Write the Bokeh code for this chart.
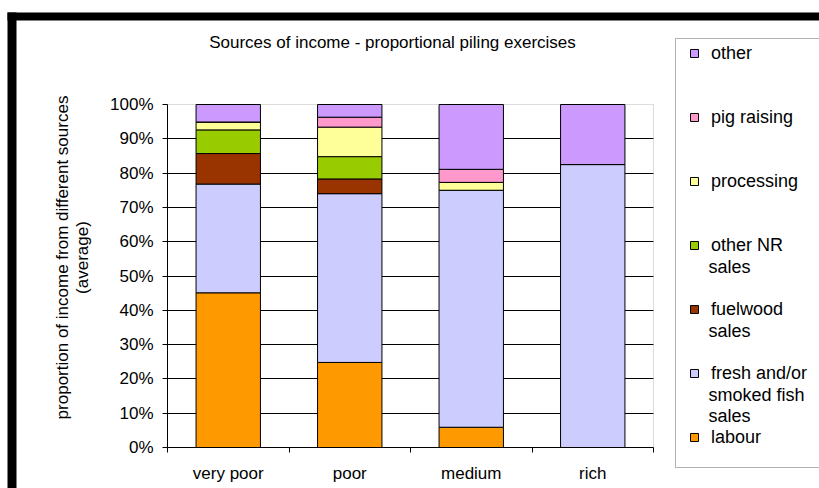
import math
from bokeh.plotting import figure
from bokeh.models import (Range1d, LinearAxis, FixedTicker,
                          PrintfTickFormatter, Label, Legend, LegendItem, BoxAnnotation,
                          ColumnDataSource, Grid)
from bokeh.embed import file_html
from bokeh.resources import INLINE

# ---------------- data ----------------
categories = ["very poor", "poor", "medium", "rich"]
labour = [45.1, 24.8, 5.9, 0.0]
fish = [31.7, 49.2, 69.1, 82.5]
fuelwood = [8.9, 4.3, 0.0, 0.0]
other_nr = [6.9, 6.5, 0.0, 0.0]
processing = [2.3, 8.6, 2.3, 0.0]
pig = [0.0, 2.9, 3.8, 0.0]
other = [5.1, 3.7, 18.9, 17.5]

series_keys = ["labour", "fish", "fuelwood", "other_nr", "processing", "pig", "other"]
series_colors = ["#FF9900", "#CCCCFF", "#993300", "#99CC00", "#FFFF99", "#FF99CC", "#CC99FF"]
legend_lines = [["labour"], ["fresh and/or", "smoked fish", "sales"], ["fuelwood", "sales"],
                ["other NR", "sales"], ["processing"], ["pig raising"], ["other"]]
y_ticks = [0, 10, 20, 30, 40, 50, 60, 70, 80, 90, 100]
title_text = "Sources of income - proportional piling exercises"
ylabel_lines = ["proportion of income from different sources", "(average)"]

# ---------------- layout (canvas pixels) ----------------
W, H = 819, 488
FL, FR, FT, FB = 167, 653, 104, 447      # plot area inside the canvas
FONT = "Liberation Sans"
FS = "17px"
FS_LEG = "18px"

n_cat = len(categories)
x_centers = [i + 0.5 for i in range(n_cat)]
x_bounds = list(range(n_cat + 1))
Y_MAX = y_ticks[-1]

# the frame covers the whole canvas; ranges are chosen so that the data area
# [0, n_cat] x [0, 100] lands on the plot-area pixels
kx = (FR - FL) / n_cat
ky = (FB - FT) / Y_MAX
x_range = Range1d(-FL / kx, n_cat + (W - FR) / kx)
y_range = Range1d(-(H - FB) / ky, Y_MAX + FT / ky)

src = ColumnDataSource(dict(x=x_centers, labour=labour, fish=fish, fuelwood=fuelwood,
                            other_nr=other_nr, processing=processing, pig=pig, other=other))

p = figure(width=W, height=H, x_range=x_range, y_range=y_range,
           output_backend="svg", toolbar_location=None, title=None,
           x_axis_location=None, y_axis_location=None,
           min_border_left=0, min_border_right=0, min_border_top=0, min_border_bottom=0)
p.background_fill_color = "white"
p.border_fill_color = "white"
p.outline_line_color = None
p.xgrid.visible = False
p.ygrid.visible = False

# horizontal grid lines limited to the plot area
grid = Grid(dimension=1, ticker=FixedTicker(ticks=y_ticks[1:-1]), grid_line_color="black",
            grid_line_width=1, cross_bounds=(0, n_cat))
p.add_layout(grid)

# plot area outline (grey)
p.add_layout(BoxAnnotation(left=0, right=n_cat, bottom=0, top=Y_MAX, fill_alpha=0,
                           line_color="#8c8c8c", line_width=1, level="underlay"))

renderers = p.vbar_stack(series_keys, x="x", width=0.53, source=src, color=series_colors,
                         line_color="black", line_width=1)

# y axis
yaxis = LinearAxis(ticker=FixedTicker(ticks=y_ticks), formatter=PrintfTickFormatter(format="%d%%"),
                   fixed_location=0, bounds=(0, Y_MAX),
                   axis_line_color="black", major_tick_line_color="black",
                   major_tick_out=5, major_tick_in=0, minor_tick_line_color=None,
                   major_label_standoff=9, major_label_text_font=FONT,
                   major_label_text_font_size=FS, major_label_text_color="black")
p.add_layout(yaxis, "left")

# x axis: names at centres, small ticks at category boundaries
xaxis = LinearAxis(ticker=FixedTicker(ticks=x_centers, minor_ticks=x_bounds),
                   major_label_overrides={c: name for c, name in zip(x_centers, categories)},
                   fixed_location=0, bounds=(0, n_cat),
                   axis_line_color="black", major_tick_line_color=None,
                   major_tick_out=0, major_tick_in=0,
                   minor_tick_line_color="black", minor_tick_out=5, minor_tick_in=0,
                   major_label_standoff=11, major_label_text_font=FONT,
                   major_label_text_font_size=FS, major_label_text_color="black")
p.add_layout(xaxis, "below")

# legend (top to bottom: reverse of stack)
ITEM_H, PITCH = 24, 64
LEG_GLYPH_LEFT, LEG_FIRST_CY = 689, 53
items = []
for r, lines in zip(reversed(renderers), reversed(legend_lines)):
    items.append(LegendItem(label=lines[0], renderers=[r]))
n = len(items)
leg_h = n * ITEM_H + (n - 1) * (PITCH - ITEM_H)
leg_bottom = LEG_FIRST_CY - ITEM_H / 2 + leg_h
legend = Legend(items=items, location=(LEG_GLYPH_LEFT, H - leg_bottom),
                padding=0, margin=0, spacing=PITCH - ITEM_H, label_height=ITEM_H,
                glyph_height=10, glyph_width=10, label_standoff=12,
                label_text_font=FONT, label_text_font_size=FS_LEG, label_text_color="black",
                border_line_color=None, background_fill_alpha=0)
p.add_layout(legend, "center")


def lab(text, cx, cy, align="left", angle=0.0, size=FS):
    return Label(x=cx, y=H - cy, x_units="screen", y_units="screen", text=text,
                 text_font=FONT, text_font_size=size, text_color="black",
                 text_align=align, text_baseline="middle", angle=angle)


for i, lines in enumerate(reversed(legend_lines)):
    cy0 = LEG_FIRST_CY + i * PITCH
    for j, t in enumerate(lines[1:]):
        p.add_layout(lab(t, 708, cy0 + 21 * (j + 1), size=FS_LEG))

# title & y label
p.add_layout(lab(title_text, 392, 42, align="center", size="17px"))
p.add_layout(lab(ylabel_lines[0], 62, 257, align="center", angle=math.pi / 2))
p.add_layout(lab(ylabel_lines[1], 82, 257, align="center", angle=math.pi / 2))

# legend box and outer black frame
p.add_layout(BoxAnnotation(left=675, right=840, top=38, bottom=467,
                           left_units="canvas", right_units="canvas", top_units="canvas",
                           bottom_units="canvas", fill_alpha=0, line_color="black", line_width=1))
p.add_layout(BoxAnnotation(left=7, right=16, top=12, bottom=500,
                           left_units="canvas", right_units="canvas", top_units="canvas",
                           bottom_units="canvas", fill_color="black", fill_alpha=1, line_color=None))
p.add_layout(BoxAnnotation(left=7, right=830, top=12, bottom=20,
                           left_units="canvas", right_units="canvas", top_units="canvas",
                           bottom_units="canvas", fill_color="black", fill_alpha=1, line_color=None))

open("out.html", "w").write(file_html(p, INLINE))
